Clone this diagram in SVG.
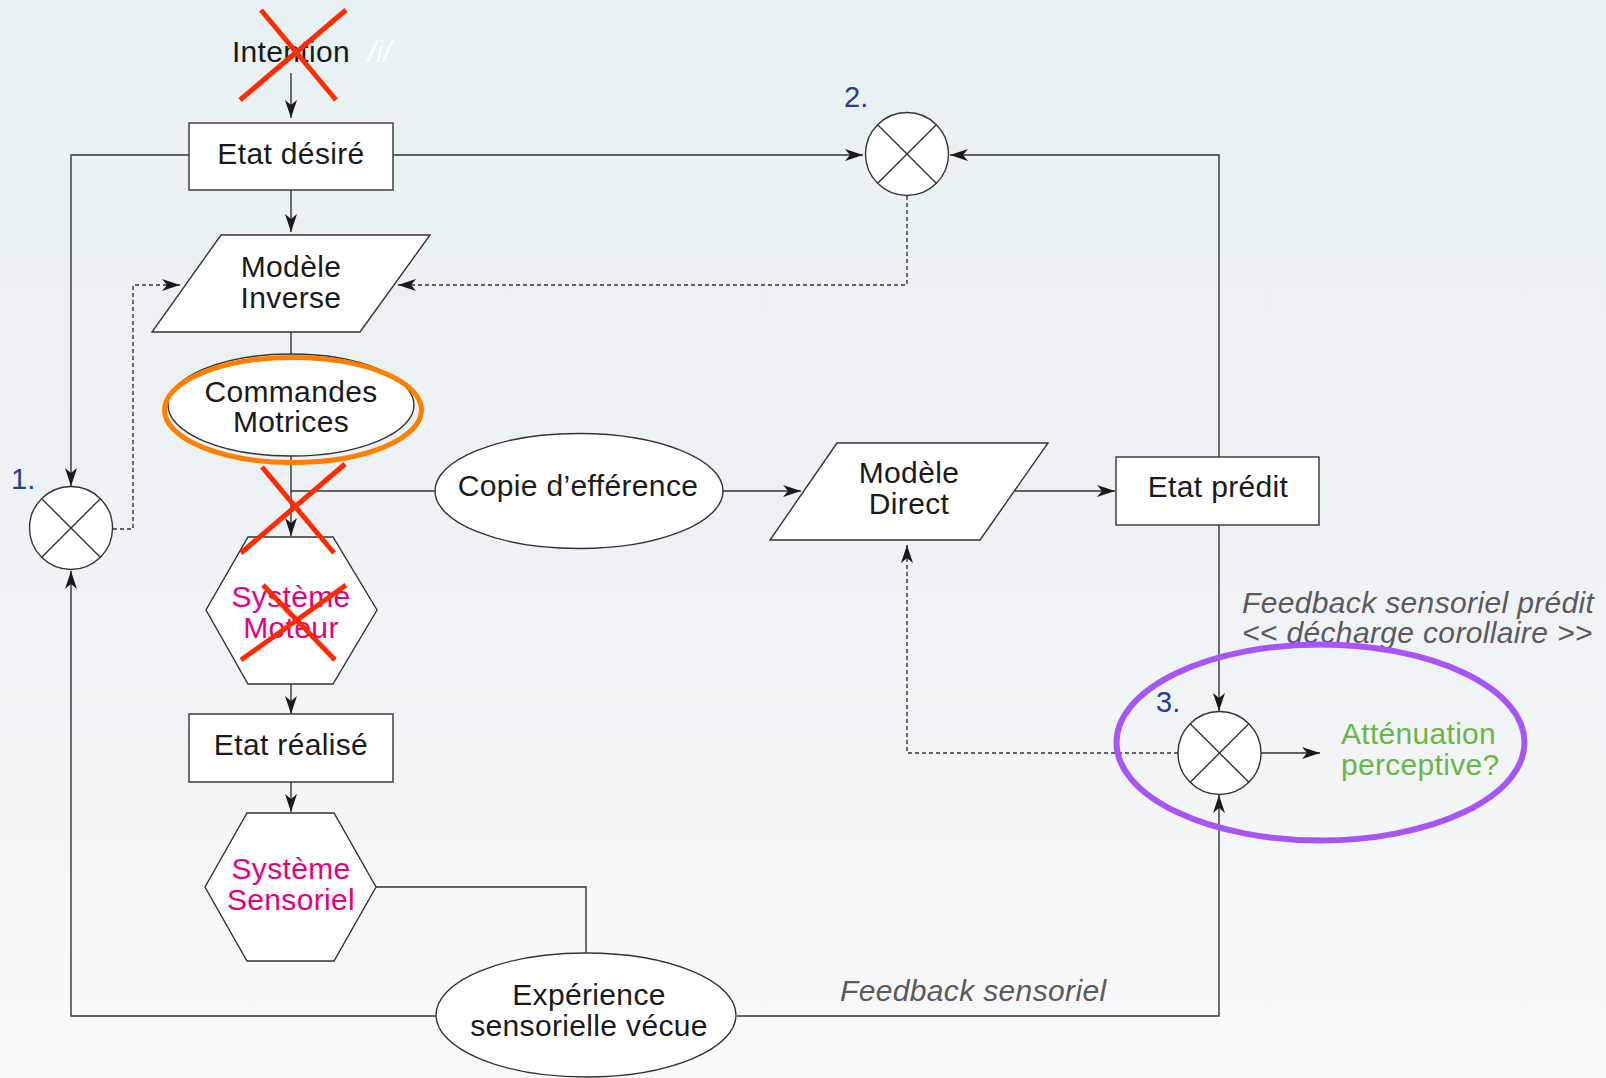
<svg xmlns="http://www.w3.org/2000/svg" width="1606" height="1078" viewBox="0 0 1606 1078">
<defs>
<linearGradient id="bg" x1="0" y1="0" x2="0" y2="1">
<stop offset="0" stop-color="#e8f1f3"/>
<stop offset="0.5" stop-color="#eef2f4"/>
<stop offset="1" stop-color="#f9f9fa"/>
</linearGradient>
<marker id="arr" viewBox="0 0 18 12" refX="18" refY="6" markerWidth="18" markerHeight="12" markerUnits="userSpaceOnUse" orient="auto">
<path d="M0,0 L18,6 L0,12 L5,6 Z" fill="#1a1a1a"/>
</marker>
<style>
.shape{fill:#ffffff;stroke:#333333;stroke-width:1.4}
.line{fill:none;stroke:#333333;stroke-width:1.4}
.dash{fill:none;stroke:#333333;stroke-width:1.4;stroke-dasharray:4 3}
.t{font-family:"Liberation Sans",Arial,sans-serif;font-size:30px;letter-spacing:0.35px;fill:#1a1a1a;text-anchor:middle}
.mag{fill:#e6007e}
.it{font-family:"Liberation Sans",Arial,sans-serif;font-size:30px;letter-spacing:0.35px;font-style:italic;fill:#5a5a5a}
.grn{font-family:"Liberation Sans",Arial,sans-serif;font-size:30px;letter-spacing:0.3px;fill:#6ab547}
.num{font-family:"Liberation Sans",Arial,sans-serif;font-size:29px;fill:#2b3a94}
.cross{stroke:#333333;stroke-width:1.4}
.redx{stroke:#ff2a00;stroke-width:5;stroke-linecap:butt}
</style>
</defs>
<rect x="0" y="0" width="1606" height="1078" fill="url(#bg)"/>

<g id="connectors">
<path class="line" d="M291,73 V118" marker-end="url(#arr)"/>
<path class="line" d="M189,155 H71 V486" marker-end="url(#arr)"/>
<path class="line" d="M393,155 H863" marker-end="url(#arr)"/>
<path class="line" d="M1219,457 V155 H950" marker-end="url(#arr)"/>
<path class="dash" d="M907,196 V285 H398" marker-end="url(#arr)"/>
<path class="dash" d="M113,529 H133 V285 H180" marker-end="url(#arr)"/>
<path class="line" d="M291,190 V232" marker-end="url(#arr)"/>
<path class="line" d="M291,332 V354"/>
<path class="line" d="M291,456 V536" marker-end="url(#arr)"/>
<path class="line" d="M291,491 H435"/>
<path class="line" d="M723,491 H801" marker-end="url(#arr)"/>
<path class="line" d="M1014,491 H1115" marker-end="url(#arr)"/>
<path class="line" d="M1219,525 V711" marker-end="url(#arr)"/>
<path class="line" d="M1261,753 H1320" marker-end="url(#arr)"/>
<path class="dash" d="M1178,753 H907 V545" marker-end="url(#arr)"/>
<path class="line" d="M291,684 V714" marker-end="url(#arr)"/>
<path class="line" d="M291,782 V812" marker-end="url(#arr)"/>
<path class="line" d="M376,887 H586 V953"/>
<path class="line" d="M436,1016 H71 V571" marker-end="url(#arr)"/>
<path class="line" d="M737,1016 H1219 V795" marker-end="url(#arr)"/>
</g>

<g id="intention">
<text class="t" x="291" y="62">Intention</text>
<text x="368" y="62" font-family="Liberation Sans, Arial, sans-serif" font-size="30" font-style="italic" fill="#ffffff">/i/</text>
</g>

<g id="etat-desire">
<rect class="shape" x="189" y="123" width="204" height="67"/>
<text class="t" x="291" y="164">Etat désiré</text>
</g>

<g id="modele-inverse">
<polygon class="shape" points="221,235 430,235 360,332 152,332"/>
<text class="t" x="291" y="277">Modèle</text>
<text class="t" x="291" y="308">Inverse</text>
</g>

<g id="commandes-motrices">
<ellipse class="shape" cx="291" cy="405" rx="123" ry="51"/>
<text class="t" x="291" y="402">Commandes</text>
<text class="t" x="291" y="432">Motrices</text>
<ellipse cx="293" cy="410" rx="128.5" ry="52.5" fill="none" stroke="#ff7f00" stroke-width="5"/>
</g>

<g id="systeme-moteur">
<polygon class="shape" points="248,537 333,537 377,610 333,684 248,684 206,610"/>
<text class="t mag" x="291" y="607">Système</text>
<text class="t mag" x="291" y="638">Moteur</text>
</g>

<g id="etat-realise">
<rect class="shape" x="189" y="714" width="204" height="68"/>
<text class="t" x="291" y="755">Etat réalisé</text>
</g>

<g id="systeme-sensoriel">
<polygon class="shape" points="247,813 334,813 376,887 334,961 247,961 205,887"/>
<text class="t mag" x="291" y="879">Système</text>
<text class="t mag" x="291" y="910">Sensoriel</text>
</g>

<g id="experience">
<ellipse class="shape" cx="586" cy="1015" rx="150" ry="62"/>
<text class="t" x="589" y="1005">Expérience</text>
<text class="t" x="589" y="1036">sensorielle vécue</text>
</g>

<g id="copie-efference">
<ellipse class="shape" cx="579" cy="491" rx="144" ry="57.5"/>
<text class="t" x="578" y="496">Copie d’efférence</text>
</g>

<g id="modele-direct">
<polygon class="shape" points="837,443 1048,443 980,540 770,540"/>
<text class="t" x="909" y="483">Modèle</text>
<text class="t" x="909" y="514">Direct</text>
</g>

<g id="etat-predit">
<rect class="shape" x="1116" y="457" width="203" height="68"/>
<text class="t" x="1218" y="497">Etat prédit</text>
</g>

<g id="comparateur-1">
<circle class="shape" cx="71" cy="528" r="41.5"/>
<line class="cross" x1="41.7" y1="498.7" x2="100.3" y2="557.3"/>
<line class="cross" x1="100.3" y1="498.7" x2="41.7" y2="557.3"/>
<text class="num" x="11" y="489">1.</text>
</g>

<g id="comparateur-2">
<circle class="shape" cx="907" cy="154" r="41.5"/>
<line class="cross" x1="877.7" y1="124.7" x2="936.3" y2="183.3"/>
<line class="cross" x1="936.3" y1="124.7" x2="877.7" y2="183.3"/>
<text class="num" x="844" y="107">2.</text>
</g>

<g id="comparateur-3">
<circle class="shape" cx="1219.5" cy="753" r="41.5"/>
<line class="cross" x1="1190.2" y1="723.7" x2="1248.8" y2="782.3"/>
<line class="cross" x1="1248.8" y1="723.7" x2="1190.2" y2="782.3"/>
<text class="num" x="1156" y="712">3.</text>
</g>

<g id="labels">
<text class="it" x="1242" y="613">Feedback sensoriel prédit</text>
<text class="it" x="1242" y="643">&lt;&lt; décharge corollaire &gt;&gt;</text>
<text class="it" x="840" y="1001">Feedback sensoriel</text>
</g>

<g id="attenuation">
<text class="grn" x="1341" y="744">Atténuation</text>
<text class="grn" x="1341" y="775">perceptive?</text>
<ellipse cx="1320.5" cy="742.5" rx="204" ry="98" fill="none" stroke="#a855f7" stroke-width="6"/>
</g>

<g id="croix">
<line class="redx" x1="261" y1="10" x2="336" y2="100"/>
<line class="redx" x1="346" y1="10" x2="240" y2="100"/>
<line class="redx" x1="262" y1="467" x2="334" y2="553"/>
<line class="redx" x1="345" y1="464" x2="241" y2="553"/>
<line class="redx" x1="263" y1="585" x2="335" y2="660"/>
<line class="redx" x1="346" y1="585" x2="241" y2="660"/>
</g>
</svg>
